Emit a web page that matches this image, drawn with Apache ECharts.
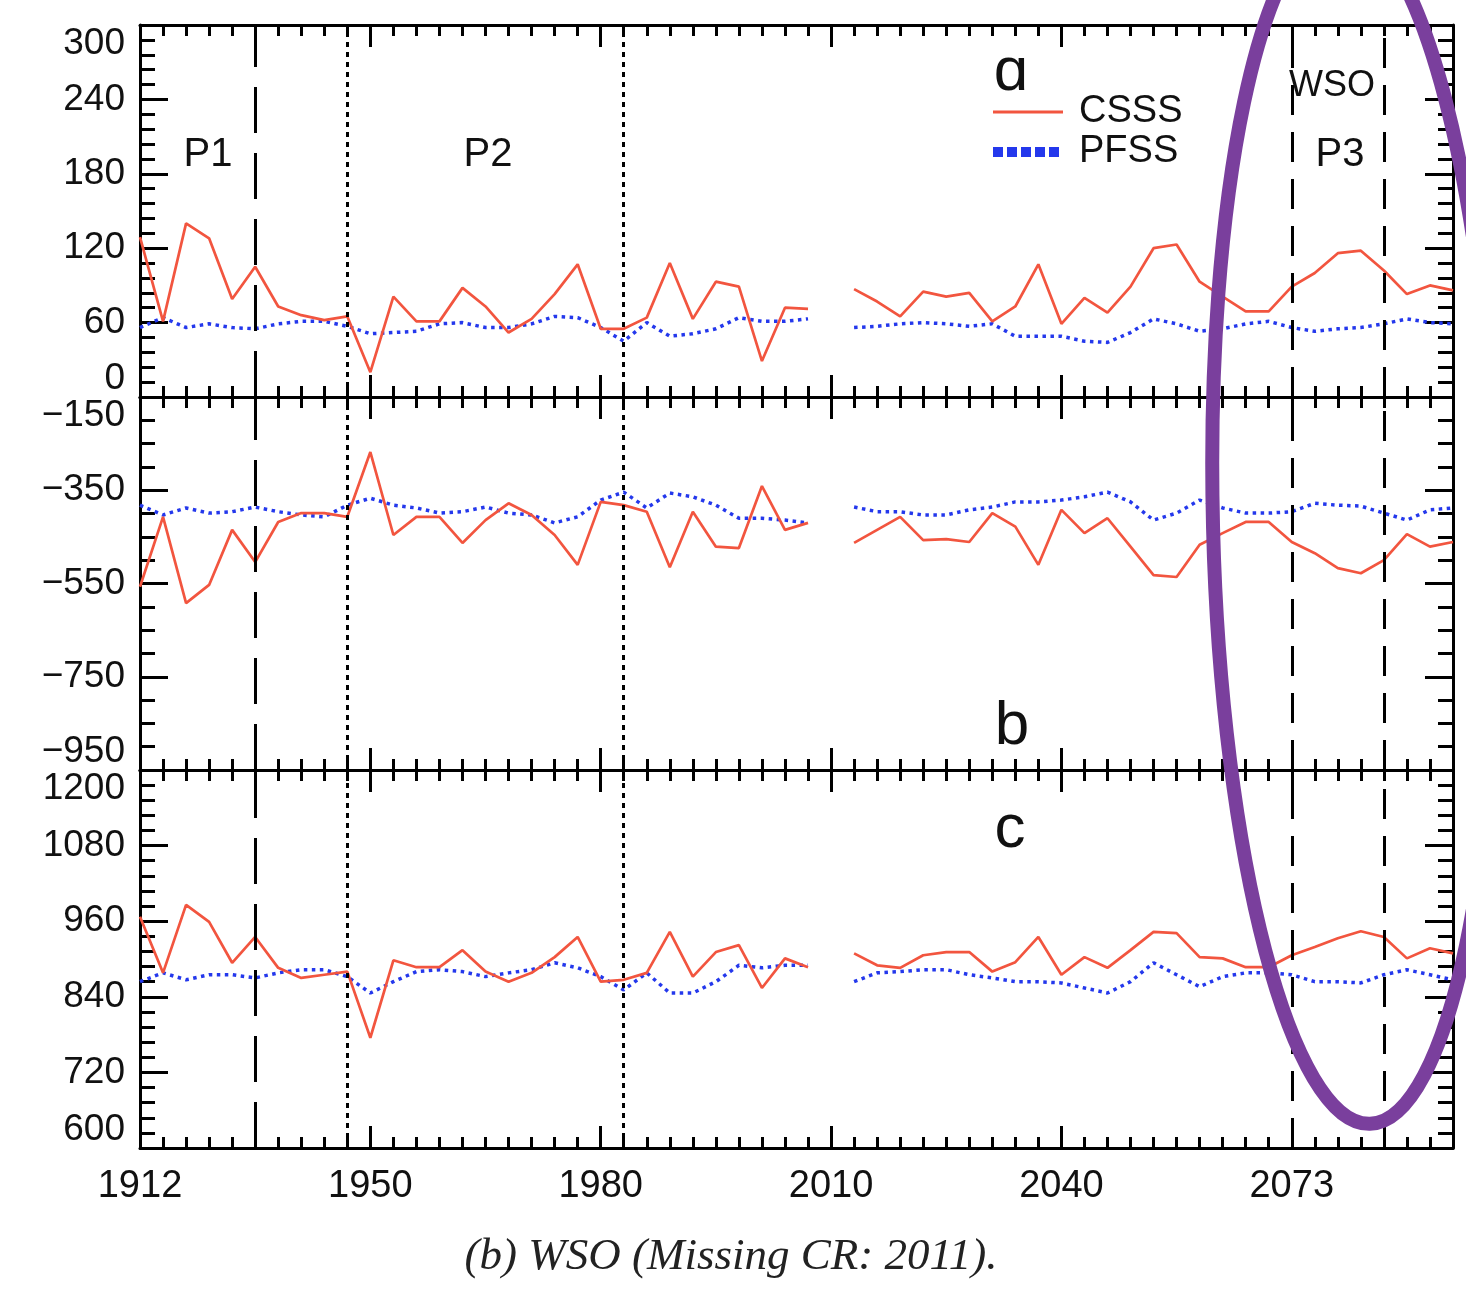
<!DOCTYPE html>
<html>
<head>
<meta charset="utf-8">
<script src="https://cdn.jsdelivr.net/npm/echarts@6/dist/echarts.min.js"></script>
<style>
  html, body { margin: 0; padding: 0; background: #fff; }
  #chart { width: 1466px; height: 1291px; }
</style>
</head>
<body>
<div id="chart"></div>
<script>
// x positions are rotation indices 0..57, labelled every 10th
var xTickLabels = ["1912", "1950", "1980", "2010", "2040", "2073"];
var nPoints = 58;

// vertical reference lines (rotation index)
var p1Lines = [5];
var dottedLines = [9, 21];
var p3Lines = [50, 54];

// panel a
var csssA = [129, 61, 140, 128, 79, 105, 73, 66, 62, 65, 20, 81, 61, 61, 88, 73, 52, 63, 83, 107,
  55, 55, 64, 108, 63, 93, 89, 29, 72, 71, null, 87, 77, 65, 85, 81, 84, 61, 73, 107,
  59, 80, 68, 89, 120, 123, 93, 81, 69, 69, 89, 100, 116, 118, 102, 83, 90, 86];
var pfssA = [56, 64, 56, 59, 56, 55, 59, 61, 61, 57, 51, 52, 53, 59, 60, 56, 56, 59, 65, 64,
  56, 45, 60, 49, 51, 55, 64, 61, 61, 63, null, 56, 57, 59, 60, 59, 57, 59, 49, 49,
  49, 45, 44, 52, 63, 59, 53, 55, 59, 61, 56, 53, 55, 56, 59, 63, 60, 59];

// panel b
var csssB = [-557, -407, -592, -553, -435, -504, -418, -399, -399, -407, -268, -446, -407, -407, -463, -414, -378, -403, -446, -510,
  -375, -382, -396, -515, -396, -471, -474, -341, -435, -420, null, -463, -435, -407, -457, -455, -461, -399, -428, -510,
  -392, -442, -410, -471, -532, -536, -467, -442, -418, -418, -461, -485, -517, -528, -500, -444, -471, -461];
var pfssB = [-382, -403, -388, -399, -396, -386, -396, -403, -407, -382, -367, -382, -388, -399, -396, -386, -399, -403, -420, -407,
  -371, -354, -388, -356, -364, -382, -410, -410, -414, -420, null, -386, -396, -396, -403, -403, -392, -386, -375, -375,
  -371, -364, -354, -375, -414, -399, -371, -388, -399, -399, -396, -378, -382, -384, -399, -414, -392, -388];

// panel c
var csssC = [967, 878, 986, 959, 894, 935, 886, 870, 875, 880, 775, 898, 887, 887, 914, 880, 864, 878, 903, 935,
  864, 867, 878, 943, 872, 911, 922, 854, 901, 887, null, 909, 890, 886, 906, 911, 911, 880, 895, 935,
  875, 903, 886, 914, 943, 941, 903, 901, 887, 887, 906, 919, 933, 944, 935, 901, 917, 909];
var pfssC = [864, 878, 867, 875, 875, 870, 878, 883, 883, 872, 846, 864, 880, 883, 880, 872, 878, 883, 894, 886,
  872, 851, 878, 846, 846, 864, 890, 886, 890, 890, null, 864, 878, 880, 883, 883, 875, 870, 864, 864,
  862, 854, 846, 864, 894, 875, 856, 872, 878, 878, 875, 864, 864, 862, 875, 883, 875, 867];

var panels = [
  { csss: csssA, pfss: pfssA, min: 0, max: 300, step: 60, minor: 5 },
  { csss: csssB, pfss: pfssB, min: -950, max: -150, step: 200, minor: 4 },
  { csss: csssC, pfss: pfssC, min: 600, max: 1200, step: 120, minor: 5 }
];
var gridBoxes = [
  { top: 25, height: 372 },
  { top: 397, height: 373 },
  { top: 770, height: 378 }
];

var FONT = "Liberation Sans, Arial, sans-serif";
var black = { color: "#000", width: 3 };
var RED = "#f2553f", BLUE = "#2438ec";

function toPairs(arr) {
  return arr.map(function (v, i) { return [i, v]; });
}

var grids = [], xAxes = [], yAxes = [], series = [];

panels.forEach(function (p, g) {
  grids.push({ left: 140, right: 13, top: gridBoxes[g].top, height: gridBoxes[g].height });

  var last = g === panels.length - 1;
  ["bottom", "top"].forEach(function (pos) {
    // major ticks
    xAxes.push({
      gridIndex: g, type: "value", position: pos, min: 0, max: nPoints - 1, interval: 10,
      axisLine: { show: true, onZero: false, lineStyle: black },
      axisTick: { inside: true, length: 22, lineStyle: black },
      splitLine: { show: false },
      axisLabel: {
        show: last && pos === "bottom", margin: 20,
        fontSize: 38, fontFamily: FONT, color: "#111",
        formatter: function (v) { return v % 10 === 0 && xTickLabels[v / 10] ? xTickLabels[v / 10] : ""; }
      }
    });
    // one small tick per rotation
    xAxes.push({
      gridIndex: g, type: "value", position: pos, min: 0, max: nPoints - 1, interval: 1,
      axisLine: { show: false, onZero: false },
      axisTick: { inside: true, length: 11, lineStyle: black },
      splitLine: { show: false },
      axisLabel: { show: false }
    });
  });

  ["left", "right"].forEach(function (pos) {
    yAxes.push({
      gridIndex: g, type: "value", position: pos, min: p.min, max: p.max, interval: p.step,
      axisLine: { show: true, onZero: false, lineStyle: black },
      axisTick: { inside: true, length: 28, lineStyle: black },
      minorTick: { show: true, splitNumber: p.minor, length: 15, lineStyle: black },
      splitLine: { show: false },
      axisLabel: {
        show: pos === "left", margin: 15, fontSize: 37, fontFamily: FONT, color: "#111",
        showMinLabel: true, showMaxLabel: true, hideOverlap: false,
        verticalAlignMinLabel: "bottom", verticalAlignMaxLabel: "top",
        formatter: function (v) { return String(v).replace("-", "\u2212"); }
      }
    });
  });

  var vlines = [];
  p1Lines.forEach(function (x) { vlines.push({ xAxis: x, lineStyle: { type: [46, 20] } }); });
  dottedLines.forEach(function (x) { vlines.push({ xAxis: x, lineStyle: { type: [5, 5] } }); });
  p3Lines.forEach(function (x) { vlines.push({ xAxis: x, lineStyle: { type: [30, 17] } }); });

  series.push({
    name: "CSSS", type: "line", xAxisIndex: 4 * g, yAxisIndex: 2 * g,
    data: toPairs(p.csss), showSymbol: false, symbol: "none", connectNulls: false,
    lineStyle: { color: RED, width: 2.7 }, itemStyle: { color: RED },
    markLine: {
      silent: true, symbol: ["none", "none"], label: { show: false },
      lineStyle: { color: "#000", width: 3 }, animation: false,
      data: vlines
    },
    z: 3
  });
  series.push({
    name: "PFSS", type: "line", xAxisIndex: 4 * g, yAxisIndex: 2 * g,
    data: toPairs(p.pfss), showSymbol: false, symbol: "none", connectNulls: false,
    lineStyle: { color: BLUE, width: 3.5, type: [3.5, 4.5] }, itemStyle: { color: BLUE },
    z: 2
  });
});

function label(text, x, y, size) {
  return {
    type: "text", x: x, y: y, z: 50,
    style: { text: text, fontSize: size, fontFamily: FONT, fill: "#111", align: "center", verticalAlign: "middle" }
  };
}

var chart = echarts.init(document.getElementById("chart"), null, { renderer: "canvas" });
chart.setOption({
  animation: false,
  backgroundColor: "#fff",
  grid: grids,
  xAxis: xAxes,
  yAxis: yAxes,
  series: series,
  legend: {
    data: [
      { name: "CSSS", lineStyle: { width: 3, color: RED } },
      { name: "PFSS", lineStyle: { width: 10, color: BLUE, type: [10, 4] } }
    ],
    orient: "vertical", left: 983, top: 88,
    itemWidth: 70, itemHeight: 20, itemGap: 2, selectedMode: false,
    itemStyle: { opacity: 0 },
    textStyle: { fontSize: 38, fontFamily: FONT, color: "#111", padding: [0, 0, 0, 11] }
  },
  graphic: [
    label("P1", 208, 155, 40),
    label("P2", 488, 155, 40),
    label("P3", 1340, 155, 40),
    label("WSO", 1332, 86, 36),
    label("\u0251", 1011, 73, 62),
    label("b", 1012, 727, 62),
    label("c", 1010, 830, 62),
    {
      type: "text", x: 731, y: 1257, z: 50,
      style: {
        text: "(b) WSO (Missing CR: 2011).", fontSize: 45, fontStyle: "italic",
        fontFamily: "Liberation Serif, Times New Roman, serif", fill: "#222",
        align: "center", verticalAlign: "middle"
      }
    },
    {
      type: "ellipse", x: 1355, y: 524, rotation: 0.025, z: 60,
      shape: { cx: 0, cy: 0, rx: 142, ry: 600 },
      style: { fill: "none", stroke: "#7a3f9d", lineWidth: 14 }
    }
  ]
});
</script>
</body>
</html>
